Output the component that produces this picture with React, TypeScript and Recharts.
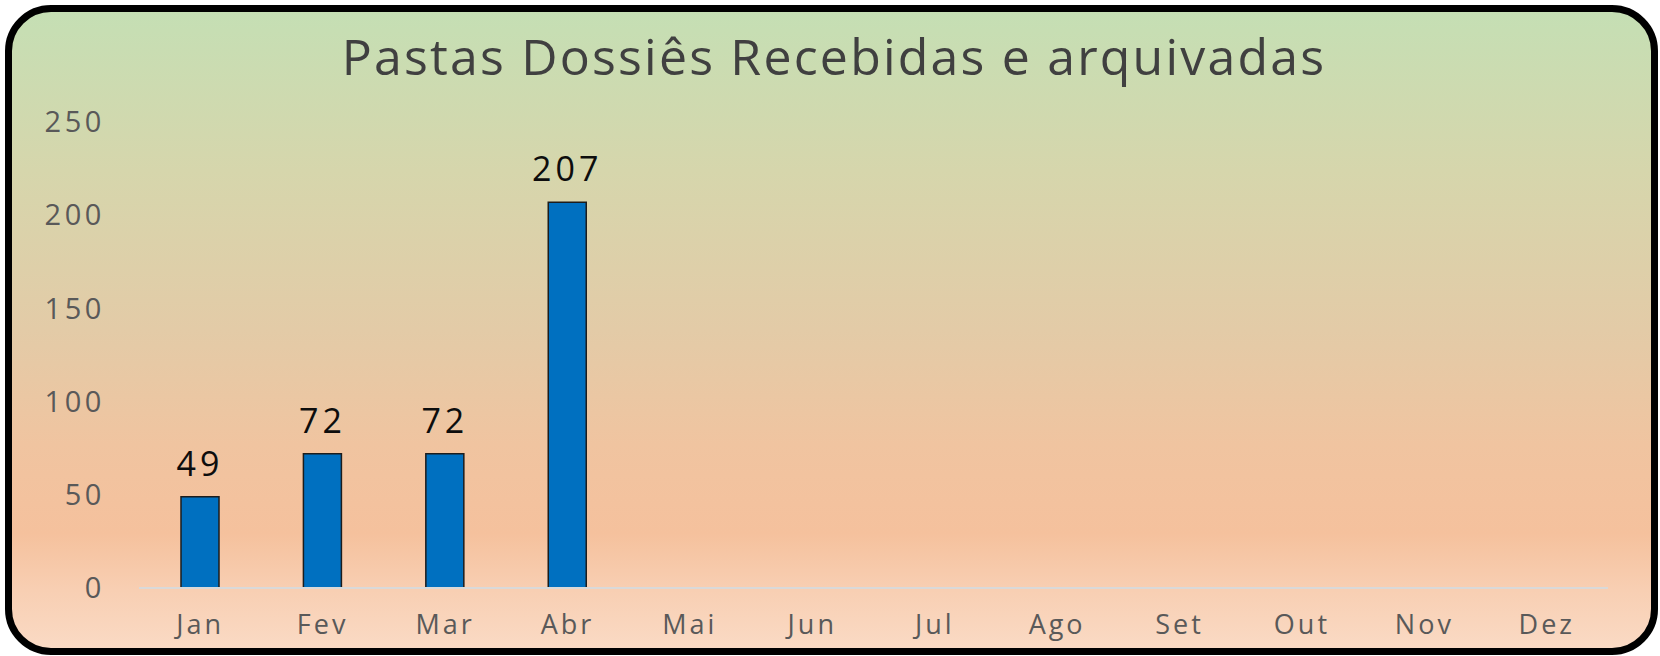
import React from 'react';
import { BarChart, Bar, XAxis, YAxis, LabelList, ReferenceLine } from 'recharts';

const months = ['Jan', 'Fev', 'Mar', 'Abr', 'Mai', 'Jun', 'Jul', 'Ago', 'Set', 'Out', 'Nov', 'Dez'];
const values: (number | null)[] = [49, 72, 72, 207, null, null, null, null, null, null, null, null];
const yTicks = [0, 50, 100, 150, 200, 250];
const title = 'Pastas Dossiês Recebidas e arquivadas';

const data = months.map((m, i) => ({ month: m, value: values[i] }));

export default function App() {
  return (
    <div style={{ position: 'absolute', left: 0, top: 0, width: 1660, height: 656, overflow: 'hidden' }}>
      <div
        style={{
          position: 'absolute',
          left: 5,
          top: 5,
          width: 1653,
          height: 650,
          boxSizing: 'border-box',
          border: '7px solid #000',
          borderRadius: 46,
          background: 'linear-gradient(to bottom, #c5dfb4 0%, #d6d6ac 25%, #e3cba7 50%, #f0c4a0 68%, #f5c19d 82%, #f8cfb3 91%, #fadac4 100%)',
        }}
      />
      <div
        style={{
          position: 'absolute',
          left: 0,
          top: 24,
          width: 1668,
          textAlign: 'center',
          fontFamily: '"Open Sans", sans-serif',
          fontSize: 50,
          letterSpacing: 2.2,
          color: '#404040',
          lineHeight: '64px',
          whiteSpace: 'nowrap',
        }}
      >
        {title}
      </div>
      <div style={{ position: 'absolute', left: 0, top: 0 }}>
        <BarChart width={1660} height={656} data={data} margin={{ top: 122, right: 52, bottom: 38, left: 0 }}>
          <XAxis
            dataKey="month"
            axisLine={false}
            tickLine={false}
            tickMargin={21}
            height={30}
            interval={0}
            tick={{ fill: '#595959', fontSize: 27, fontFamily: '"Open Sans", sans-serif', letterSpacing: 3 }}
          />
          <YAxis
            domain={[0, 250]}
            ticks={yTicks}
            axisLine={false}
            tickLine={false}
            width={139}
            tickMargin={28}
            interval={0}
            tick={{ fill: '#595959', fontSize: 29, fontFamily: '"Open Sans", sans-serif', letterSpacing: 3.6 }}
          />
          <ReferenceLine y={0} stroke="#d9d9d9" strokeWidth={2} />
          <Bar dataKey="value" fill="#0070c0" stroke="#1c1c1c" strokeWidth={1.5} barSize={38} isAnimationActive={false}>
            <LabelList
              dataKey="value"
              position="top"
              offset={21}
              fill="#0d0d0d"
              style={{ fontSize: 34, fontFamily: '"Open Sans", sans-serif', letterSpacing: 4 }}
            />
          </Bar>
        </BarChart>
      </div>
    </div>
  );
}
